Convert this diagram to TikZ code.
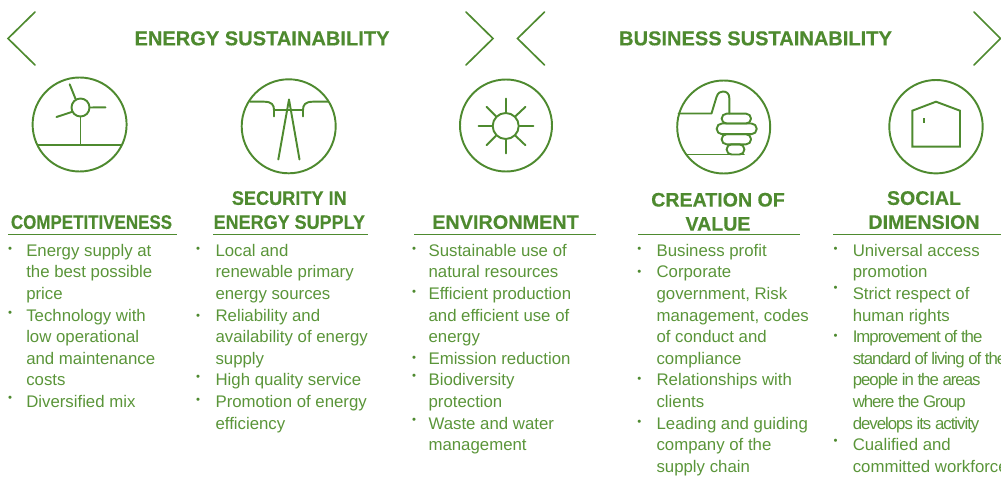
\documentclass[tikz,border=0pt]{standalone}
\usepackage{fontspec}
\usepackage{graphicx}
\setmainfont{Liberation Sans}
\newfontfamily\headfont[FakeBold=0.4]{Liberation Sans Bold}
\definecolor{lgreen}{HTML}{4E8A2F}
\definecolor{tgreen}{HTML}{5A9539}
\newcommand{\narrowtext}[1]{{\addfontfeature{LetterSpace=-6}#1}}
\tikzset{
  x=0.75pt,y=-0.75pt,
  ico/.style={draw=lgreen,line width=1.45pt,line cap=round,line join=round},
  chev/.style={draw=lgreen,line width=1.25pt,line cap=round},
  ring/.style={circle,draw=lgreen,line width=1.45pt,inner sep=0pt,minimum size=#1*0.75pt},
  rulel/.style={draw=lgreen,line width=0.9pt},
  title/.style={anchor=base,inner sep=0pt,text=lgreen,font=\fontsize{15.05pt}{18pt}\selectfont\headfont},
  head/.style={anchor=south,inner sep=0pt,align=center,text=lgreen,font=\fontsize{14.7pt}{18pt}\selectfont\headfont},
  body/.style={anchor=north west,inner sep=0pt,align=left,text=tgreen,font=\fontsize{12.6pt}{16.2pt}\selectfont},
  bul/.style={inner sep=0pt,text=lgreen,font=\fontsize{8.5pt}{9pt}\selectfont},
}
\begin{document}
\begin{tikzpicture}
\useasboundingbox (0,0) rectangle (1001,485);
% chevrons
\coordinate (c1a) at (35,12); \coordinate (c1b) at (8,38.5); \coordinate (c1c) at (35,65);
\coordinate (c2a) at (466,12); \coordinate (c2b) at (493,38.5); \coordinate (c2c) at (466,65);
\coordinate (c3a) at (544.5,12); \coordinate (c3b) at (517.5,38.5); \coordinate (c3c) at (544.5,65);
\coordinate (c4a) at (974,12); \coordinate (c4b) at (1000.5,38.5); \coordinate (c4c) at (974,65);
\draw[chev] (c1a)--(c1b)--(c1c);
\draw[chev] (c2a)--(c2b)--(c2c);
\draw[chev] (c3a)--(c3b)--(c3c);
\draw[chev] (c4a)--(c4b)--(c4c);
% titles
\node[title] (t1) at (262,45.3) {ENERGY SUSTAINABILITY};
\node[title] (t2) at (755.5,45.3) {BUSINESS SUSTAINABILITY};
% icon rings
\node[ring=94] (r1) at (79.6,124.5) {};
\node[ring=94] (r2) at (288.7,126.3) {};
\node[ring=92] (r3) at (506,125.5) {};
\node[ring=93] (r4) at (723.7,127) {};
\node[ring=93.4] (r5) at (936,126.7) {};
% wind turbine
\node[ring=18] (hub) at (80.5,107.5) {};
\draw[ico] (hub.east)--(105.5,107.3);
\draw[ico] (hub.120)--(69.7,84.3);
\draw[ico] (hub.207)--(56.5,117);
\draw[ico] (hub.south)--(80.5,145);
\draw[ico] (38,145)--(121,145);
% pylon
\draw[ico] (278.3,159.5)--(289,99.5)--(299.5,159.5);
\draw[ico] (274,110)--(303,110);
\draw[ico] (250,101.7)--(264,101.7) .. controls (272,101.7) and (274,105) .. (274,110)--(274,116.5);
\draw[ico] (328,101.7)--(313,101.7) .. controls (305,101.7) and (303,105) .. (303,110)--(303,116.5);
% sun
\node[ring=26] (sun) at (505.7,126) {};
\draw[ico] (sun.north)--(505.7,98.5);
\draw[ico] (sun.south)--(505.7,153.5);
\draw[ico] (sun.west)--(478.5,126);
\draw[ico] (sun.east)--(533.5,126);
\draw[ico] (sun.135)--(486.5,106.8);
\draw[ico] (sun.45)--(525.5,106.8);
\draw[ico] (sun.225)--(486.5,145.3);
\draw[ico] (sun.315)--(525.5,145.3);
% thumb
\draw[ico] (678.5,113.5)--(711.5,113.5)--(716.5,97) .. controls (718,92.5) and (720.5,91.5) .. (723,91.5) .. controls (727,91.5) and (729.3,94) .. (729.3,98)--(729.3,113.5);
\draw[ico,rounded corners=3.6pt] (721.7,113.7) rectangle (751,123.5);
\draw[ico,rounded corners=3.9pt] (716.7,123.5) rectangle (756.7,134.2);
\draw[ico,rounded corners=3.6pt] (721.7,134.2) rectangle (751,144.3);
\draw[ico,rounded corners=3.6pt] (726.7,144.3) rectangle (744.3,154.5);
\draw[ico] (687,154.5)--(744,154.5);
% house
\draw[ico,line join=miter] (912.3,110.7)--(936,101.7)--(960,110.7)--(960,146.7)--(912.3,146.7)--cycle;
\draw[ico,line width=0.9pt,line cap=butt] (924,118.3)--(924,123.3);
% headings
\node[head] (h1) at (91.5,229.3) {\scalebox{.865}[1]{COMPETITIVENESS}};
\node[head] (h2) at (289.3,229.3) {\scalebox{.925}[1]{SECURITY IN}\\\scalebox{.918}[1]{ENERGY SUPPLY}};
\node[head] (h3) at (505.5,229.3) {\scalebox{1.012}[1]{ENVIRONMENT}};
\node[head] (h4) at (718,231) {CREATION OF\\VALUE};
\node[head] (h5) at (924,229.3) {SOCIAL\\DIMENSION};
% rules
\draw[rulel] (8,234.5)--(177,234.5);
\draw[rulel] (213,234.5)--(368,234.5);
\draw[rulel] (414,234.5)--(596,234.5);
\draw[rulel] (638,234.5)--(800,234.5);
\draw[rulel] (833,234.5)--(1001,234.5);
% body text
\node[body] (l1) at (26,240.9) {\strut Energy supply at\\the best possible\\price\\Technology with\\low operational\\and maintenance\\costs\\Diversified mix};
\node[body] (l2) at (215.3,240.9) {\strut Local and\\renewable primary\\energy sources\\Reliability and\\availability of energy\\supply\\High quality service\\Promotion of energy\\efficiency};
\node[body] (l3) at (428.3,240.9) {\strut Sustainable use of\\natural resources\\Efficient production\\and efficient use of\\energy\\Emission reduction\\Biodiversity\\protection\\Waste and water\\management};
\node[body] (l4) at (656.3,240.9) {\strut Business profit\\Corporate\\government, Risk\\management, codes\\of conduct and\\compliance\\Relationships with\\clients\\Leading and guiding\\company of the\\supply chain};
\node[body] (l5) at (852.5,240.9) {\strut Universal access\\promotion\\Strict respect of\\human rights\\\narrowtext{Improvement of the}\\\narrowtext{standard of living of the}\\\narrowtext{people in the areas}\\\narrowtext{where the Group}\\\narrowtext{develops its activity}\\Cualified and\\committed workforce};
% bullets
\node[bul] (b11) at (10,250.3) {•};
\node[bul] (b12) at (10,314.3) {•};
\node[bul] (b13) at (10,399) {•};
\node[bul] (b21) at (198,250.3) {•};
\node[bul] (b22) at (198,317) {•};
\node[bul] (b23) at (198,378.3) {•};
\node[bul] (b24) at (198,401.3) {•};
\node[bul] (b31) at (414,250.3) {•};
\node[bul] (b32) at (414,293) {•};
\node[bul] (b33) at (414,359) {•};
\node[bul] (b34) at (414,377.3) {•};
\node[bul] (b35) at (414,420.7) {•};
\node[bul] (b41) at (639.3,250.3) {•};
\node[bul] (b42) at (639.3,273) {•};
\node[bul] (b43) at (639.3,380) {•};
\node[bul] (b44) at (639.3,423.3) {•};
\node[bul] (b51) at (835.7,250) {•};
\node[bul] (b52) at (835.7,289.3) {•};
\node[bul] (b53) at (835.7,337.3) {•};
\node[bul] (b54) at (835.7,441.7) {•};
\end{tikzpicture}
\end{document}
